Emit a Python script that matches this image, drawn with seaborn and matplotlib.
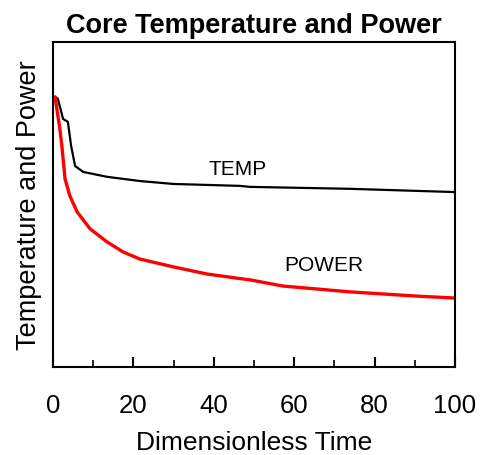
import matplotlib
matplotlib.use("Agg")
import matplotlib.pyplot as plt
import seaborn as sns
import numpy as np
import pandas as pd
from matplotlib.ticker import MultipleLocator

# values (y is relative, no scale shown)
temp_t = [0.5, 1.2, 2.5, 3.7, 4.5, 5.5, 7.5, 13.4, 21.6, 29.9, 38.3, 46.5, 49.0, 73.9, 100.0]
temp_v = [0.831, 0.825, 0.763, 0.754, 0.680, 0.618, 0.600, 0.585, 0.572, 0.563, 0.560, 0.557, 0.554, 0.548, 0.538]

power_t = [0.5, 1.7, 2.2, 3.0, 4.2, 6.0, 9.2, 13.4, 17.4, 21.6, 29.9, 38.3, 46.5, 49.0, 57.2, 73.9, 90.5, 100.0]
power_v = [0.831, 0.732, 0.680, 0.578, 0.526, 0.477, 0.425, 0.385, 0.354, 0.332, 0.308, 0.286, 0.272, 0.268, 0.249, 0.231, 0.218, 0.212]

sns.set_style("ticks")
plt.rcParams['font.family'] = ['Liberation Sans', 'DejaVu Sans']
plt.rcParams['text.color'] = 'black'
plt.rcParams['axes.labelcolor'] = 'black'
plt.rcParams['xtick.color'] = 'black'
plt.rcParams['axes.edgecolor'] = 'black'

temp_df = pd.DataFrame({"t": temp_t, "v": temp_v})
power_df = pd.DataFrame({"t": power_t, "v": power_v})

fig = plt.figure(figsize=(4.82, 4.56), dpi=100)
ax = fig.add_axes([0.110, 0.193, 0.834, 0.713])

sns.lineplot(data=temp_df, x="t", y="v", color="black", lw=1.6, ax=ax)
sns.lineplot(data=power_df, x="t", y="v", color="red", lw=2.4, ax=ax)

ax.text(45.8, 0.61, "TEMP", fontsize=15, ha="center", va="center")
ax.text(67.4, 0.315, "POWER", fontsize=15, ha="center", va="center")

ax.set_xlim(0, 100)
ax.set_ylim(0, 1)
ax.xaxis.set_major_locator(MultipleLocator(20))
ax.xaxis.set_minor_locator(MultipleLocator(10))
ax.tick_params(axis="x", which="major", direction="in", length=7, width=1.5, pad=19, labelsize=18.5)
ax.tick_params(axis="x", which="minor", direction="in", length=5, width=1.2)
ax.set_yticks([])
for s in ax.spines.values():
    s.set_linewidth(1.5)
    s.set_visible(True)

ax.set_xlabel("Dimensionless Time", fontsize=19, labelpad=9)
ax.set_ylabel("Temperature and Power", fontsize=19.5, labelpad=8)
ax.set_title("Core Temperature and Power", fontsize=19.5, fontweight="bold", pad=7)

fig.savefig("out.png", dpi=100)
